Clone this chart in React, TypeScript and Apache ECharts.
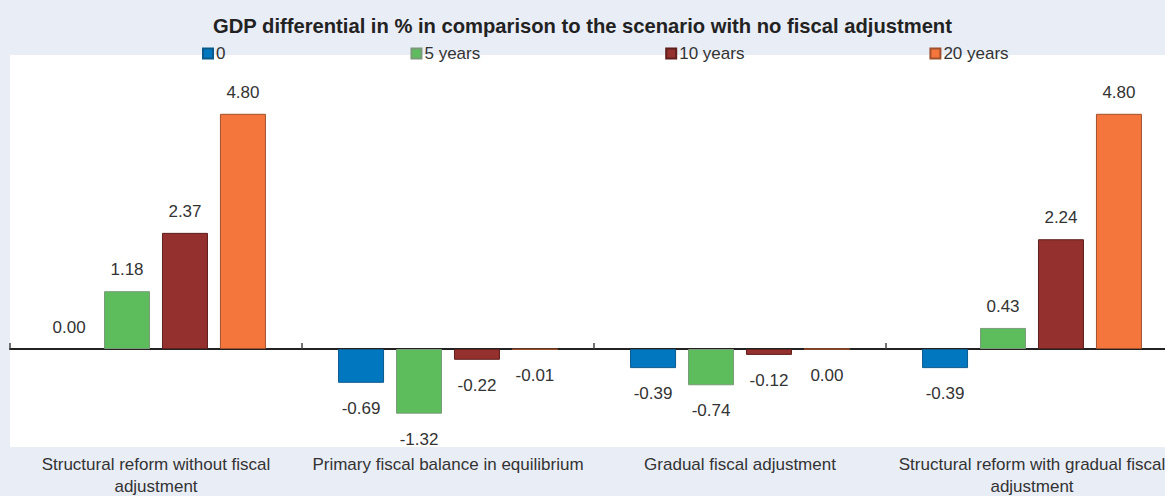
import React, { useEffect, useRef } from "react";
import * as echarts from "echarts";

const categories = [
  "Structural reform without fiscal\nadjustment",
  "Primary fiscal balance in equilibrium",
  "Gradual fiscal adjustment",
  "Structural reform with gradual fiscal\nadjustment",
];
const seriesNames = ["0", "5 years", "10 years", "20 years"];
const values0 = [0.0, -0.69, -0.39, -0.39];
const values5 = [1.18, -1.32, -0.74, 0.43];
const values10 = [2.37, -0.22, -0.12, 2.24];
const values20 = [4.8, -0.01, -0.003, 4.8];
const colors = ["#0077bf", "#5dbd5c", "#94302e", "#f4763d"];
const borders = ["#0b5a8c", "#7a9a7a", "#5e1f1d", "#a0502c"];

const FONT = "'Liberation Sans', Arial, sans-serif";

export default function App() {
  const ref = useRef<HTMLDivElement>(null);
  useEffect(() => {
    if (!ref.current) return;
    const chart = echarts.init(ref.current, null, { renderer: "svg" });
    const all = [values0, values5, values10, values20];
    const fmt = (v: number) => {
      const s = v.toFixed(2);
      return s === "-0.00" ? "0.00" : s;
    };
    chart.setOption({
      animation: false,
      backgroundColor: "#e9edf6",
      title: {
        text: "GDP differential in % in comparison to the scenario with no fiscal adjustment",
        left: "center",
        top: 11,
        textStyle: { fontFamily: FONT, fontSize: 20.2, fontWeight: "bold", color: "#222" },
      },
      legend: {
        data: seriesNames,
        top: 40,
        left: 197,
        itemWidth: 10,
        itemHeight: 10,
        itemGap: 185,
        icon: "rect",
        textStyle: { fontFamily: FONT, fontSize: 17, color: "#333", padding: [0, 0, 0, -2] },
      },
      grid: {
        left: 10,
        width: 1168,
        top: 55,
        bottom: 49,
        show: true,
        backgroundColor: "#ffffff",
        borderWidth: 0,
        outerBoundsMode: "none",
      },
      xAxis: [
        {
          type: "category",
          data: categories,
          axisLine: { onZero: true, lineStyle: { color: "#222", width: 2 } },
          axisTick: { show: true, inside: true, length: 6, lineStyle: { color: "#444", width: 1.5 } },
          axisLabel: { show: false },
        },
        {
          type: "category",
          data: categories,
          position: "bottom",
          axisLine: { show: false },
          axisTick: { show: false },
          axisLabel: {
            fontFamily: FONT,
            fontSize: 17,
            color: "#333",
            margin: 6,
            lineHeight: 22,
            interval: 0,
          },
        },
      ],
      yAxis: {
        type: "value",
        min: -2,
        max: 6,
        show: false,
        splitLine: { show: false },
      },
      series: all.map((vals, i) => ({
        name: seriesNames[i],
        type: "bar",
        xAxisIndex: 0,
        barWidth: 46,
        barGap: "26%",
        itemStyle: { color: colors[i], borderColor: borders[i], borderWidth: 1 },
        data: vals.map((v) => ({
          value: v,
          itemStyle: v === 0 ? { borderWidth: 0 } : undefined,
          label: {
            show: true,
            position: v < 0 ? "bottom" : "top",
            distance: v < 0 ? 17 : 13,
            formatter: () => fmt(v),
            fontFamily: FONT,
            fontSize: 17,
            color: "#333",
          },
        })),
      })),
    });
    return () => chart.dispose();
  }, []);
  return (
    <div
      ref={ref}
      style={{ position: "fixed", left: 0, top: 0, width: 1165, height: 496 }}
    />
  );
}
